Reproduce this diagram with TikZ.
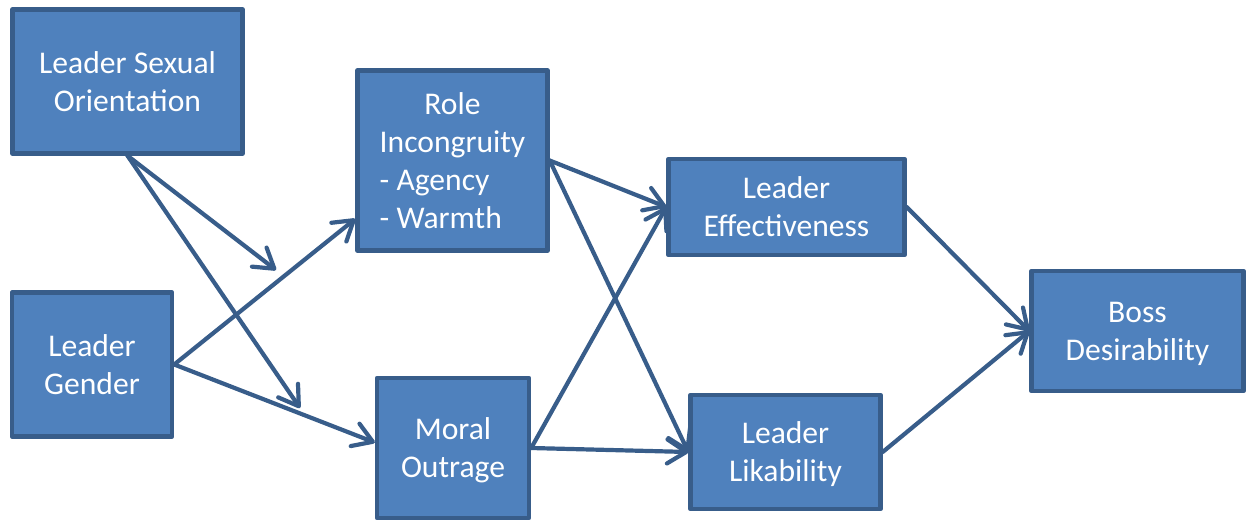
\documentclass[tikz,border=0pt]{standalone}
\usepackage{fontspec}
\usepackage{calc}
\setmainfont{Carlito}
\usetikzlibrary{arrows.meta}
\definecolor{boxfill}{HTML}{4F81BD}
\definecolor{boxline}{HTML}{385D8A}
% list lines flush left under the widest line
\newcommand\listline[1]{\makebox[\widthof{Incongruity}][l]{#1}}

\begin{document}
\begin{tikzpicture}[x=0.5pt, y=-0.5pt, >={Straight Barb[length=9.5pt,width=12pt,round]},
    every node/.style={font=\fontsize{15.8}{19}\selectfont, text=white, align=center, text depth=0pt},
    var/.style={draw=boxline, fill=boxfill, line width=2.2pt, line join=round, inner sep=0pt},
    link/.style={->, draw=boxline, line width=2.1pt, line cap=round}]
    \useasboundingbox (0,0) rectangle (1248,524);
    % predictors
    \node[var, minimum width=115pt, minimum height=72pt] (orient) at (127.5,81.5) {Leader Sexual\\Orientation};
    \node[var, minimum width=80pt, minimum height=72pt] (gender) at (92,364.5) {Leader\\Gender};
    % mediators
    \node[var, minimum width=95pt, minimum height=90pt] (role) at (452.5,160.5)
        {Role\\Incongruity\\\listline{- Agency}\\\listline{- Warmth}};
    \node[var, minimum width=76pt, minimum height=70pt] (outrage) at (453,448) {Moral\\Outrage};
    \node[var, minimum width=118pt, minimum height=48pt] (effect) at (786.5,207) {Leader\\Effectiveness};
    \node[var, minimum width=95pt, minimum height=57pt] (like) at (785.5,452) {Leader\\Likability};
    % outcome
    \node[var, minimum width=106pt, minimum height=60pt] (boss) at (1137.5,331) {Boss\\Desirability};
    % moderation arrows end in free space
    \coordinate (mod1) at (276,270);
    \coordinate (mod2) at (300,408);
    \draw[link] (orient.south) -- (mod1);
    \draw[link] (orient.south) -- (mod2);
    \draw[link] (gender.east) -- (role.211);
    \draw[link] (gender.east) -- (outrage.176);
    \draw[link] (role.east) -- (effect.west);
    \draw[link] (role.east) -- (like.west);
    \draw[link] (outrage.east) -- (effect.west);
    \draw[link] (outrage.east) -- (like.west);
    \draw[link] (effect.east) -- (boss.west);
    \draw[link] (like.east) -- (boss.west);
\end{tikzpicture}
\end{document}
